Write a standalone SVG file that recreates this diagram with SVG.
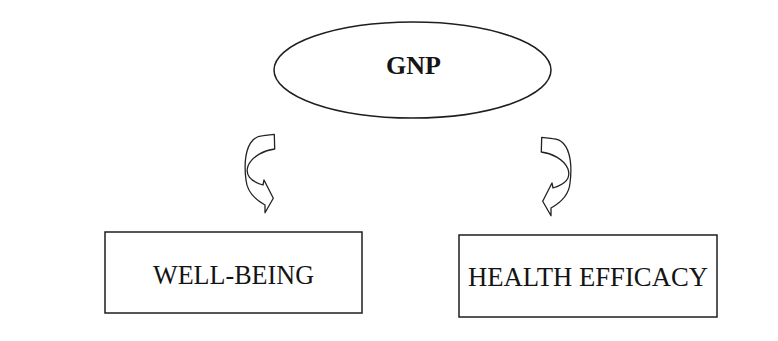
<svg xmlns="http://www.w3.org/2000/svg" xmlns:xlink="http://www.w3.org/1999/xlink" width="778" height="341" viewBox="0 0 778 341">
  <style>
    .shape { fill: #ffffff; stroke: #1e1e1e; stroke-width: 1.5; }
    .arrow { fill: #ffffff; stroke: #222222; stroke-width: 1.3; stroke-linejoin: round; }
    .label { font-family: "Liberation Serif", "Times New Roman", serif; fill: #141414; text-anchor: middle; }
  </style>
  <defs>
    <path id="curvedArrow" class="arrow" d="M 263.3,135.7 L 274.3,134.3 L 274.7,149 C 265,150 252,156 248,166 C 245,175 250,181 263,185 L 264,180 L 273.3,198.3 L 265,212.7 L 265,205 C 256,200 247,192 246,180 C 244,165 245,148 253,140 C 256,137 259,136 263.3,135.7 Z"/>
  </defs>
  <rect width="778" height="341" fill="#ffffff"/>

  <g id="gnp">
    <ellipse class="shape" cx="412.5" cy="70" rx="138.5" ry="48"/>
    <text class="label" x="413.5" y="73.5" font-size="26" font-weight="bold">GNP</text>
  </g>

  <g id="well-being">
    <rect class="shape" x="105" y="232" width="257" height="81"/>
    <text class="label" x="233.5" y="283.5" font-size="27" textLength="161" lengthAdjust="spacingAndGlyphs">WELL-BEING</text>
  </g>

  <g id="health-efficacy">
    <rect class="shape" x="459" y="235" width="258" height="82"/>
    <text class="label" x="588" y="286" font-size="27" textLength="240" lengthAdjust="spacingAndGlyphs">HEALTH EFFICACY</text>
  </g>

  <g id="connectors">
    <use xlink:href="#curvedArrow" href="#curvedArrow"/>
    <use xlink:href="#curvedArrow" href="#curvedArrow" transform="translate(816,3) scale(-1,1)"/>
  </g>
</svg>
